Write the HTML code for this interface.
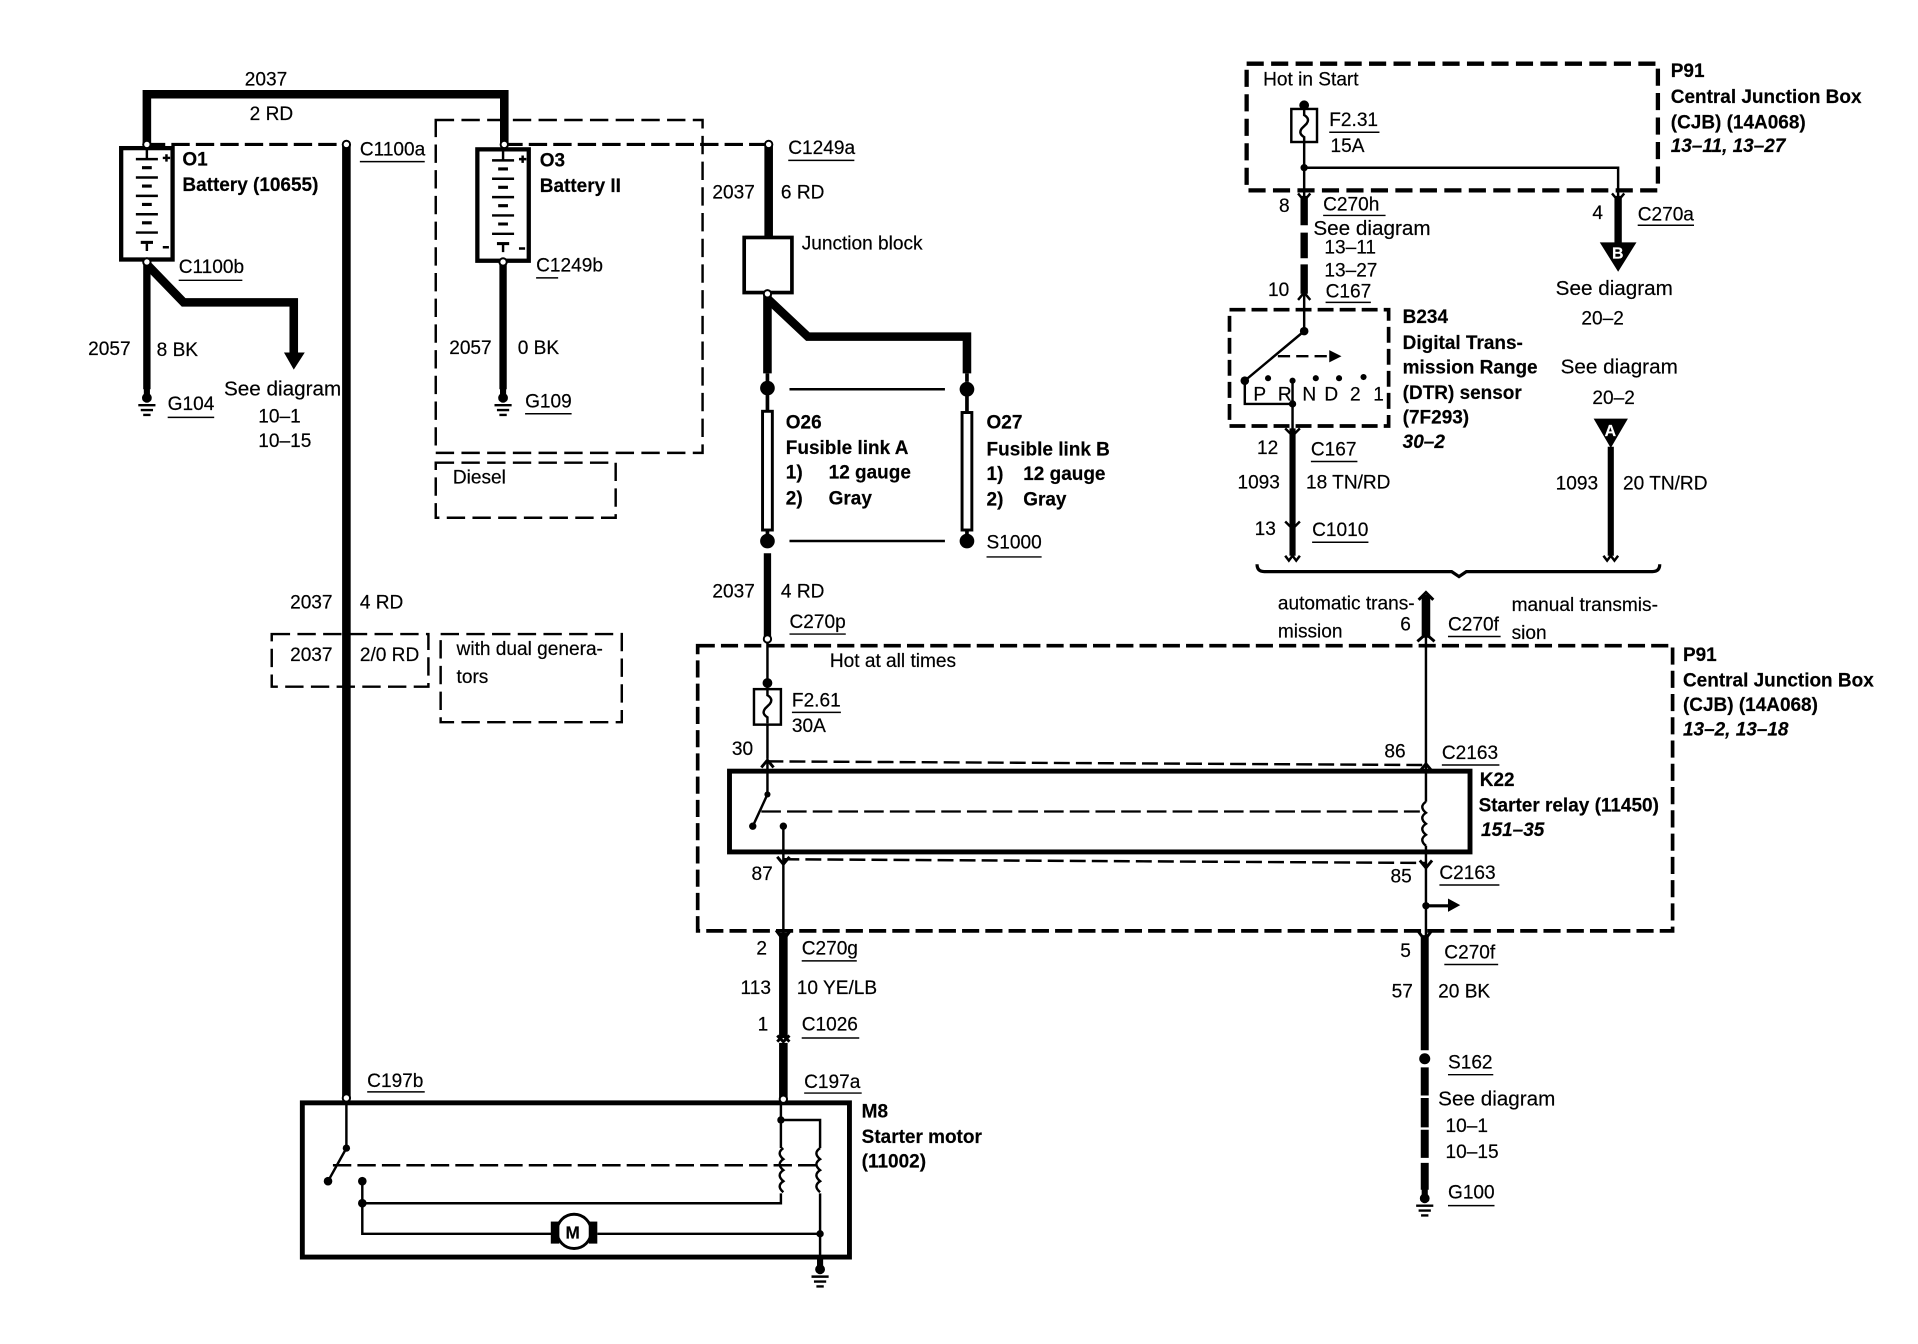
<!DOCTYPE html>
<html><head><meta charset="utf-8"><style>
html,body{margin:0;padding:0;background:#fff}
svg{display:block}
text{font-family:"Liberation Sans",Arial,sans-serif;font-size:15.6px;fill:#000;stroke:#000;stroke-width:.15}
.b{font-weight:bold;font-size:15.5px}
.i{font-weight:bold;font-style:italic;font-size:15.5px}
.s{font-size:16.9px}
.w{fill:#fff;stroke:#fff;font-weight:bold;font-size:13px}
</style></head><body>
<svg width="1918" height="1344" viewBox="0 0 1567 1098" xmlns="http://www.w3.org/2000/svg">
<defs>
<g id="gnd"><path d="M0,-12V0" stroke="#000" stroke-width="5"/><circle cy="-3" r="4"/><path d="M-7,3H7M-5,7H5M-3,11H3" stroke="#000" stroke-width="2"/></g>
<path id="coil" d="M0,0q-6,4 0,9q-6,4 0,9q-6,4 0,9q-6,4 0,9" fill="none" stroke="#000" stroke-width="2"/>
<path id="fz" d="M0,0v5q5,3 2,7l-4,4q-3,4 2,7v5" fill="none" stroke="#000" stroke-width="2"/>
<g id="batt" fill="none" stroke="#000">
<rect x="-21" y="0" width="42" height="91" stroke-width="3.5" fill="#fff"/>
<path d="M0,0v9M-9,9H9M-9,24H9M-9,39H9M-9,54H9M-9,69H9M0,78v6" stroke-width="2"/>
<path d="M-4,16H4M-4,31H4M-4,46H4M-4,61H4" stroke-width="2.5"/>
<path d="M-5,77H5" stroke-width="2.5"/>
<path d="M13,8h6M16,5v6M13,81h5" stroke-width="2"/>
</g>
</defs>
<g fill="none" stroke="#000">
<!-- top wires -->
<path d="M120,118V77H412V118" stroke-width="7"/>
<path d="M120,118H283M412,118H628" stroke-width="2.6" stroke-dasharray="15,5"/>
<path d="M283,118V898" stroke-width="7"/>
<rect x="356" y="98" width="218" height="272" stroke-width="2" stroke-dasharray="15,6"/>
<rect x="356" y="378" width="147" height="45" stroke-width="2" stroke-dasharray="15,6"/>
<rect x="222" y="518" width="128" height="43" stroke-width="2" stroke-dasharray="15,6"/>
<rect x="360" y="518" width="148" height="72" stroke-width="2" stroke-dasharray="15,6"/>
<!-- grounds wires -->
<path d="M120,214V318M411,214V318" stroke-width="6"/>
<path d="M120,216L150,247H240V290" stroke-width="7"/>
<!-- junction block -->
<path d="M628,118V195" stroke-width="7"/>
<rect x="608" y="194" width="39" height="45" stroke-width="3"/>
<path d="M627,240V305" stroke-width="7"/>
<path d="M627,244L660,275H790V305" stroke-width="7"/>
<path d="M627,305V312M790,305V312M627,322V336M790,322V336M627,432V438M790,432V438" stroke-width="3"/>
<path d="M645,318H772M645,442H772" stroke-width="2"/>
<rect x="623" y="336" width="8" height="97" stroke-width="2.4" fill="#fff"/>
<rect x="786" y="337" width="8" height="96" stroke-width="2.4" fill="#fff"/>
<path d="M627,452V522" stroke-width="6"/>
<path d="M627,522V620" stroke-width="2"/>
<!-- lower CJB -->
<rect x="570" y="527.5" width="796.5" height="233" stroke-width="3" stroke-dasharray="14,5"/>
<rect x="616" y="563" width="22" height="29" stroke-width="2" fill="#fff"/>
<rect x="596" y="630" width="605" height="66" stroke-width="4"/>
<path d="M627,622L1165,625M640,702L1165,705" stroke-width="2" stroke-dasharray="13,5"/>
<path d="M622,663H1160" stroke-width="1.8" stroke-dasharray="16,5"/>
<path d="M627,622V649L615,675" stroke-width="2"/>
<path d="M640,675V765" stroke-width="2"/>
<path d="M640,762V848M640,852V900" stroke-width="7"/>
<path d="M1165,520V655M1165,691V770" stroke-width="2"/>
<path d="M1165,486V521" stroke-width="7"/>
<path d="M1164,764V858M1164,872V895M1164,897V921M1164,923V946M1164,950V972" stroke-width="6.5"/>
<path d="M1165,740H1186" stroke-width="2.5"/>
<path d="M622,627l5,-6l5,6M1160,630l5,-6l5,6M635,700l5,6l5,-6M1160,703l5,6l5,-6M634,760l6,8l6,-8M1158,760l6,8l6,-8M1159,490l6,-6l6,6M1158,524l7,-6l7,6M635,851l5,-5l5,5M635,846l5,5l5,-5" stroke-width="2.4"/>
<!-- motor -->
<rect x="247" y="901" width="447" height="126" stroke-width="4"/>
<path d="M283,898V938L268,965" stroke-width="2"/>
<path d="M272,952H670" stroke-width="2" stroke-dasharray="15,5"/>
<path d="M296,965V1008H452M296,983H638V975M638,900V938M638,915H670V938M670,975V1028M488,1008H670" stroke-width="2"/>
<path d="M670,1028V1036" stroke-width="4"/>
<circle cx="469" cy="1006" r="14" stroke-width="2.4"/>
<!-- upper right -->
<rect x="1018.5" y="52" width="336" height="103.5" stroke-width="3.5" stroke-dasharray="14,6"/>
<rect x="1055" y="89" width="21" height="27" stroke-width="2" fill="#fff"/>
<path d="M1065.5,116V165M1065.5,137H1322V165" stroke-width="2"/>
<path d="M1065.5,160V184M1065.5,190V211M1065.5,216V240" stroke-width="6"/>
<path d="M1322,160V200" stroke-width="6"/>
<rect x="1004.5" y="253" width="130" height="95" stroke-width="3" stroke-dasharray="13,5"/>
<path d="M1065.5,240V270.5L1017,311V330H1056M1056,312V352" stroke-width="2"/>
<path d="M1044,291H1088" stroke-width="2" stroke-dasharray="10,5"/>
<path d="M1056,350V454M1316,365V454" stroke-width="5"/>
<path d="M1060.5,158l5,6l5,-6M1317,158l5,6l5,-6M1060.5,245l5,-6l5,6M1050,350l6,6l6,-6M1050,426l6,6l6,-6M1050,454l3,4l3,-4l3,4l3,-4M1310,454l3,4l3,-4l3,4l3,-4" stroke-width="2"/>
<path d="M1027,461q0,6 6,6H1186l6,4l6,-4H1350q6,0 6,-6" stroke-width="2.6"/>
<!-- underlines -->
<path stroke-width="1.2" d="M294,132H347M146,229H198M438,227H456M137,341H175M429,338H467M644,131H698M806,455H851M645,518H691M647,582H687M1178,625H1225M1176,723H1225M1183,520H1226M655,785H700M655,848H702M300,892H347M657,893H704M1180,788H1224M1183,878H1220M1183,985H1221M1086,108H1127M1081,176H1132M1083,247H1120M1338,184H1384M1071,377H1109M1072,443H1118"/>
</g>
<!-- solid shapes -->
<use href="#batt" x="120" y="121"/><use href="#batt" x="411" y="122"/>
<use href="#gnd" x="120" y="328"/><use href="#gnd" x="411" y="328"/><use href="#gnd" x="1164" y="982"/><use href="#gnd" x="670" y="1040"/>
<use href="#coil" x="1165" y="655"/><use href="#coil" x="640" y="938"/><use href="#coil" x="670" y="938"/>
<use href="#fz" x="627" y="563"/><use href="#fz" x="1065.5" y="89"/>
<g fill="#000">
<path d="M232,288H249L240,302Z"/>
<path d="M1307,198H1337L1322,222Z"/><path d="M1302,342H1330L1316,366Z"/>
<path d="M1086,286L1096,291L1086,296ZM1183,734L1193,739.5L1183,745Z"/>
<circle cx="627" cy="317" r="6"/><circle cx="790" cy="318" r="6"/><circle cx="627" cy="442" r="6"/><circle cx="790" cy="442" r="6"/>
<circle cx="627" cy="558" r="4"/><circle cx="627" cy="649" r="2.5"/><circle cx="615" cy="675" r="3"/><circle cx="640" cy="675" r="3"/>
<circle cx="1165" cy="740" r="3"/><circle cx="1164" cy="865" r="4.5"/>
<circle cx="283" cy="938" r="3"/><circle cx="268" cy="965" r="3.5"/><circle cx="296" cy="965" r="3.5"/><circle cx="296" cy="983" r="3.5"/><circle cx="638" cy="915" r="3"/><circle cx="670" cy="1008" r="3"/>
<rect x="450" y="998" width="7" height="18"/><rect x="481" y="998" width="7" height="18"/>
<circle cx="1065.5" cy="86" r="4"/><circle cx="1065.5" cy="137" r="3"/><circle cx="1065.5" cy="270.5" r="3.5"/>
<circle cx="1017" cy="311" r="3.5"/><circle cx="1036" cy="309" r="2.5"/><circle cx="1056" cy="311" r="2.5"/><circle cx="1075" cy="309" r="2.5"/><circle cx="1094" cy="309" r="2.5"/><circle cx="1114" cy="308" r="2.5"/><circle cx="1056" cy="330" r="3"/>
</g>
<g fill="#fff" stroke="#000" stroke-width="1.6">
<circle cx="120" cy="118" r="3"/><circle cx="120" cy="214" r="3"/><circle cx="283" cy="118" r="3"/><circle cx="412" cy="118" r="3"/><circle cx="411" cy="214" r="3"/><circle cx="628" cy="118" r="3"/><circle cx="627" cy="240" r="3"/><circle cx="627" cy="522" r="3"/><circle cx="283" cy="897" r="3"/><circle cx="640" cy="898" r="3"/>
</g>
<!-- labels -->
<text x="200" y="70">2037</text><text x="204" y="98">2 RD</text>
<text class="b" x="149" y="135">O1</text><text class="b" x="149" y="156">Battery (10655)</text>
<text x="294" y="127">C1100a</text><text class="b" x="441" y="136">O3</text><text class="b" x="441" y="157">Battery II</text>
<text x="146" y="223">C1100b</text><text x="438" y="222">C1249b</text>
<text x="72" y="290">2057</text><text x="128" y="291">8 BK</text>
<text class="s" x="183" y="323">See diagram</text><text x="211" y="345">10–1</text><text x="211" y="365">10–15</text>
<text x="137" y="335">G104</text><text x="367" y="289">2057</text><text x="423" y="289">0 BK</text><text x="429" y="333">G109</text><text x="370" y="395">Diesel</text>
<text x="644" y="126">C1249a</text><text x="582" y="162">2037</text><text x="638" y="162">6 RD</text><text x="655" y="204">Junction block</text>
<text class="b" x="642" y="350">O26</text><text class="b" x="642" y="371">Fusible link A</text><text class="b" x="642" y="391">1)</text><text class="b" x="677" y="391">12 gauge</text><text class="b" x="642" y="412">2)</text><text class="b" x="677" y="412">Gray</text>
<text class="b" x="806" y="350">O27</text><text class="b" x="806" y="372">Fusible link B</text><text class="b" x="806" y="392">1)</text><text class="b" x="836" y="392">12 gauge</text><text class="b" x="806" y="413">2)</text><text class="b" x="836" y="413">Gray</text>
<text x="806" y="448">S1000</text><text x="582" y="488">2037</text><text x="638" y="488">4 RD</text><text x="645" y="513">C270p</text>
<text x="237" y="497">2037</text><text x="294" y="497">4 RD</text><text x="237" y="540">2037</text><text x="294" y="540">2/0 RD</text>
<text x="373" y="535">with dual genera-</text><text x="373" y="558">tors</text>
<text x="678" y="545">Hot at all times</text><text x="647" y="577">F2.61</text><text x="647" y="598">30A</text><text x="598" y="617">30</text><text x="614" y="719">87</text>
<text class="b" x="1209" y="642">K22</text><text class="b" x="1208" y="663">Starter relay (11450)</text><text class="i" x="1210" y="683">151–35</text>
<text x="1131" y="619">86</text><text x="1178" y="620">C2163</text><text x="1136" y="721">85</text><text x="1176" y="718">C2163</text>
<text x="1144" y="515">6</text><text x="1183" y="515">C270f</text><text x="1044" y="498">automatic trans-</text><text x="1044" y="521">mission</text><text x="1235" y="499">manual transmis-</text><text x="1235" y="522">sion</text>
<text class="b" x="1375" y="540">P91</text><text class="b" x="1375" y="561">Central Junction Box</text><text class="b" x="1375" y="581">(CJB) (14A068)</text><text class="i" x="1375" y="601">13–2, 13–18</text>
<text x="618" y="780">2</text><text x="655" y="780">C270g</text><text x="605" y="812">113</text><text x="651" y="812">10 YE/LB</text><text x="619" y="842">1</text><text x="655" y="842">C1026</text>
<text x="300" y="888">C197b</text><text x="657" y="889">C197a</text><text class="b" x="704" y="913">M8</text><text class="b" x="704" y="934">Starter motor</text><text class="b" x="704" y="954">(11002)</text>
<text x="1144" y="782">5</text><text x="1180" y="783">C270f</text><text x="1137" y="815">57</text><text x="1175" y="815">20 BK</text><text x="1183" y="873">S162</text>
<text class="s" x="1175" y="903">See diagram</text><text x="1181" y="925">10–1</text><text x="1181" y="946">10–15</text><text x="1183" y="979">G100</text>
<text x="1032" y="70">Hot in Start</text><text x="1086" y="103">F2.31</text><text x="1087" y="124">15A</text>
<text class="b" x="1365" y="63">P91</text><text class="b" x="1365" y="84">Central Junction Box</text><text class="b" x="1365" y="105">(CJB) (14A068)</text><text class="i" x="1365" y="124">13–11, 13–27</text>
<text x="1045" y="173">8</text><text x="1081" y="172">C270h</text><text class="s" x="1073" y="192">See diagram</text><text x="1082" y="207">13–11</text><text x="1082" y="226">13–27</text><text x="1036" y="242">10</text><text x="1083" y="243">C167</text>
<text x="1301" y="179">4</text><text x="1338" y="180">C270a</text><text class="s" x="1271" y="241">See diagram</text><text x="1292" y="265">20–2</text><text class="s" x="1275" y="305">See diagram</text><text x="1301" y="330">20–2</text>
<text class="w" x="1317" y="211">B</text><text class="w" x="1311" y="356">A</text>
<text x="1024" y="327">P</text><text x="1044" y="327">R</text><text x="1064" y="327">N</text><text x="1082" y="327">D</text><text x="1103" y="327">2</text><text x="1122" y="327">1</text>
<text class="b" x="1146" y="264">B234</text><text class="b" x="1146" y="285">Digital Trans-</text><text class="b" x="1146" y="305">mission Range</text><text class="b" x="1146" y="326">(DTR) sensor</text><text class="b" x="1146" y="346">(7F293)</text><text class="i" x="1146" y="366">30–2</text>
<text x="1027" y="371">12</text><text x="1071" y="372">C167</text><text x="1011" y="399">1093</text><text x="1067" y="399">18 TN/RD</text><text x="1025" y="437">13</text><text x="1072" y="438">C1010</text>
<text x="1271" y="400">1093</text><text x="1326" y="400">20 TN/RD</text>
<text class="b" x="462" y="1012" style="font-size:14px">M</text>
</svg>
</body></html>
